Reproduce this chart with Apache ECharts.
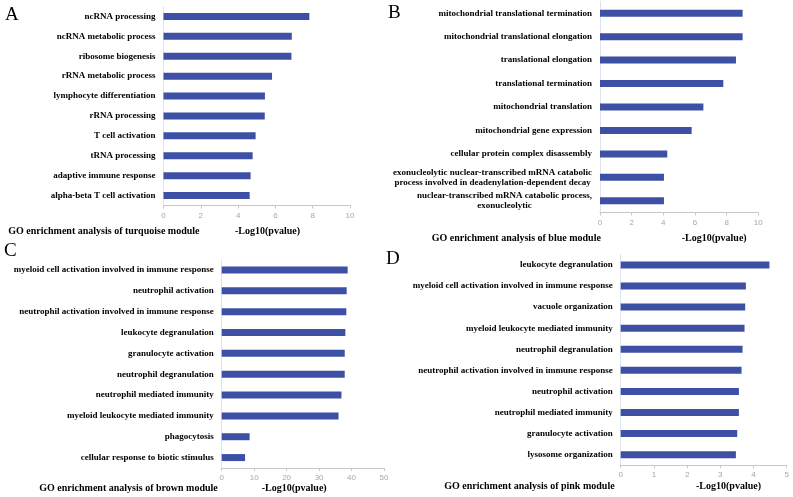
<!DOCTYPE html>
<html><head><meta charset="utf-8">
<script src="https://cdn.jsdelivr.net/npm/echarts@6/dist/echarts.min.js"></script>
<style>html,body{margin:0;padding:0;background:#fff}#c{width:793px;height:497px}</style>
</head><body><div id="c"></div>
<script>
// Panel A: turquoise module
const catsA = ["ncRNA processing","ncRNA metabolic process","ribosome biogenesis","rRNA metabolic process","lymphocyte differentiation","rRNA processing","T cell activation","tRNA processing","adaptive immune response","alpha-beta T cell activation"];
const valsA = [7.82,6.88,6.86,5.82,5.44,5.43,4.94,4.78,4.67,4.62];
// Panel B: blue module
const catsB = ["mitochondrial translational termination","mitochondrial translational elongation","translational elongation","translational termination","mitochondrial translation","mitochondrial gene expression","cellular protein complex disassembly","exonucleolytic nuclear-transcribed mRNA catabolic\nprocess involved in deadenylation-dependent decay","nuclear-transcribed mRNA catabolic process,\nexonucleolytic"];
const valsB = [9.01,9.01,8.59,7.79,6.53,5.79,4.25,4.04,4.04];
// Panel C: brown module
const catsC = ["myeloid cell activation involved in immune response","neutrophil activation","neutrophil activation involved in immune response","leukocyte degranulation","granulocyte activation","neutrophil degranulation","neutrophil mediated immunity","myeloid leukocyte mediated immunity","phagocytosis","cellular response to biotic stimulus"];
const valsC = [38.8,38.5,38.4,38.1,37.9,37.9,36.9,36.0,8.6,7.2];
// Panel D: pink module
const catsD = ["leukocyte degranulation","myeloid cell activation involved in immune response","vacuole organization","myeloid leukocyte mediated immunity","neutrophil degranulation","neutrophil activation involved in immune response","neutrophil activation","neutrophil mediated immunity","granulocyte activation","lysosome organization"];
const valsD = [4.48,3.77,3.75,3.73,3.67,3.64,3.56,3.56,3.51,3.47];
// Axis ranges
const axisMax = [10,10,50,5];
const axisInterval = [2,2,10,1];
const panelLetters = ["A","B","C","D"];
const panelTitles = ["GO enrichment analysis of turquoise module","GO enrichment analysis of blue module","GO enrichment analysis of brown module","GO enrichment analysis of pink module"];
const axisTitle = "-Log10(pvalue)";

const cats = [catsA,catsB,catsC,catsD];
const vals = [valsA,valsB,valsC,valsD];

const grids = [
  {left:163.5, top:6.5, width:186.5, height:199},
  {left:600, top:1.5, width:158.3, height:211},
  {left:221.7, top:259.5, width:162.3, height:208.5},
  {left:620.7, top:254.4, width:166, height:210.8}
];
const letterPos = [[5,16.3],[388,15],[4,252.5],[386,260.3]];
const titlePos = [[8.3,231],[431.7,238],[39.3,488.3],[444.3,486.7]];
const axisTitlePos = [[235,231],[681.7,238],[261.7,488.3],[696,486.7]];

const serif = '"Liberation Serif","Times New Roman",serif';
const barColor = '#3E50A6';

const chart = echarts.init(document.getElementById('c'), null, {renderer:'canvas'});
const option = {
  backgroundColor:'#fff',
  animation:false,
  grid: grids.map(g => Object.assign({containLabel:false, outerBoundsMode:'none'}, g)),
  xAxis: grids.map((g,i) => ({
    type:'value', gridIndex:i, min:0, max:axisMax[i], interval:axisInterval[i],
    axisLine:{show:true, lineStyle:{color:'#c8c8c8', width:1}},
    axisTick:{show:true, length:3, lineStyle:{color:'#c8c8c8'}},
    splitLine:{show:false},
    axisLabel:{color:'#a6a6a6', fontSize:8, fontFamily:'"Liberation Sans",Arial,sans-serif', margin:6}
  })),
  yAxis: grids.map((g,i) => ({
    type:'category', gridIndex:i, data:cats[i], inverse:true,
    axisLine:{show:true, lineStyle:{color:'#dde3ef', width:1}},
    axisTick:{show:false},
    splitLine:{show:false},
    axisLabel:{
      margin:8, align:'right',
      fontFamily:serif, fontWeight:'bold', fontSize:9, color:'#000',
      formatter: v => v.split('\n').map(s => '{c|' + s + '}').join('\n'),
      rich:{c:{align:'center', fontFamily:serif, fontWeight:'bold', fontSize:9, color:'#000', lineHeight:10}}
    }
  })),
  series: vals.map((v,i) => ({
    type:'bar', xAxisIndex:i, yAxisIndex:i, data:v, barWidth:7,
    itemStyle:{color:barColor}, silent:true
  })),
  graphic: [].concat(
    panelLetters.map((t,i) => ({type:'text', left:letterPos[i][0], top:letterPos[i][1]-11,
      style:{text:t, font:'19px ' + serif, fill:'#000'}})),
    panelTitles.map((t,i) => ({type:'text', x:titlePos[i][0], y:titlePos[i][1],
      style:{text:t, font:'bold 10px ' + serif, fill:'#000', verticalAlign:'middle', align:'left'}})),
    axisTitlePos.map((p,i) => ({type:'text', x:p[0], y:p[1],
      style:{text:axisTitle, font:'bold 10px ' + serif, fill:'#000', verticalAlign:'middle', align:'left'}}))
  )
};
chart.setOption(option);
</script>
</body></html>
